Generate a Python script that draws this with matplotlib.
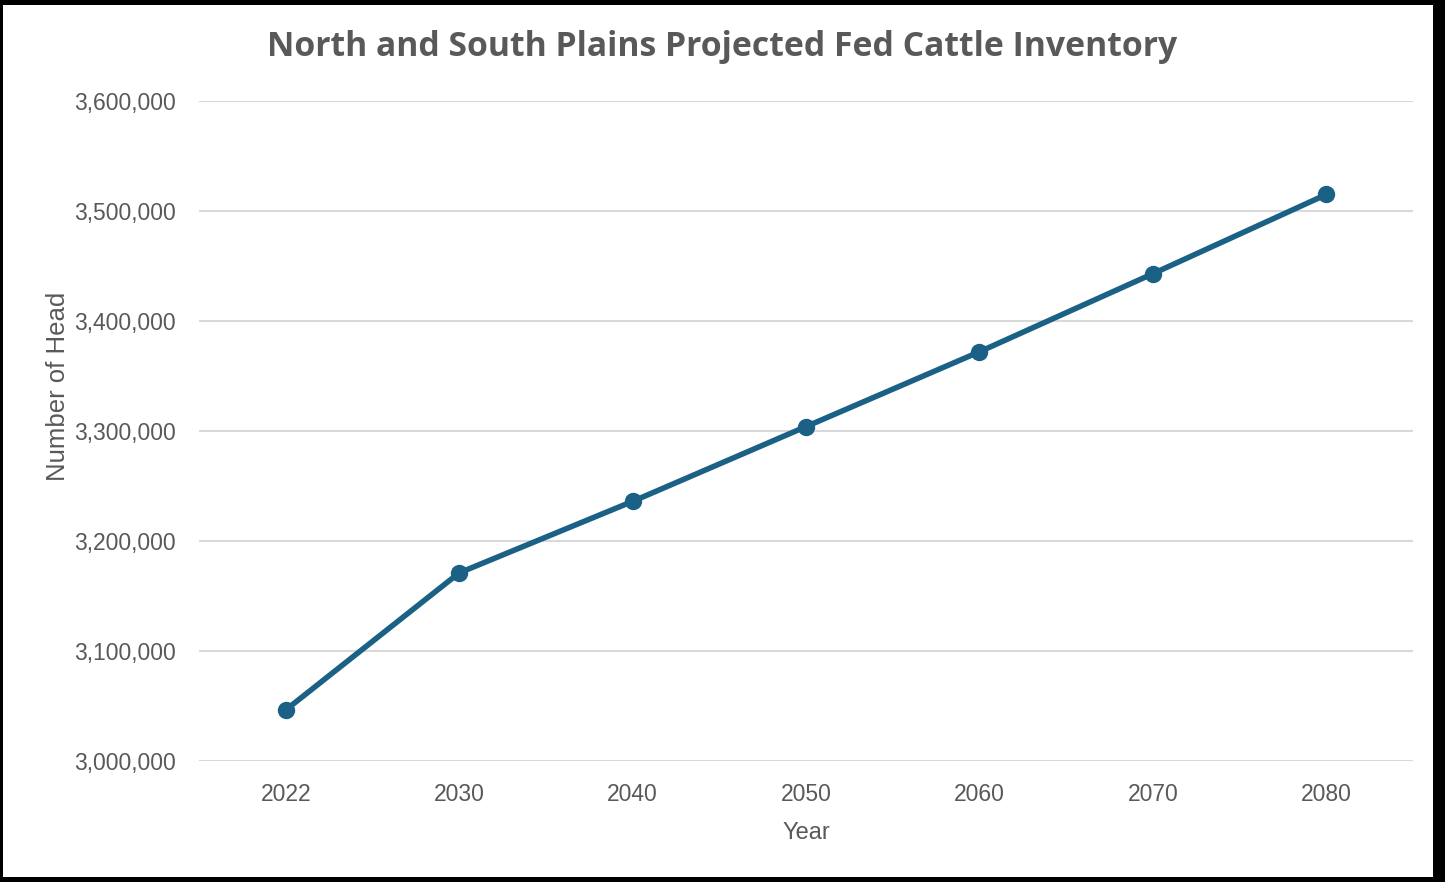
import matplotlib
matplotlib.use("Agg")
import matplotlib.pyplot as plt
import matplotlib.patches as patches
from matplotlib.ticker import FuncFormatter

years = ["2022", "2030", "2040", "2050", "2060", "2070", "2080"]
head_count = [3046400, 3171000, 3236000, 3304000, 3372000, 3443000, 3515000]

text_grey = "#595959"
line_blue = "#1b6185"

plt.rcParams["font.family"] = ["Liberation Sans", "DejaVu Sans"]

fig = plt.figure(figsize=(14.45, 8.82), dpi=100, facecolor="black")
# white card inside the black frame
card = patches.Rectangle((3 / 1445, 5 / 882), 1430 / 1445, 872 / 882,
                         transform=fig.transFigure, facecolor="white",
                         edgecolor="none", zorder=-10)
fig.patches.append(card)

ax = fig.add_axes([199 / 1445, 121 / 882, 1214 / 1445, 660 / 882])
ax.set_facecolor("none")

xs = list(range(len(years)))
ax.plot(xs, head_count, color=line_blue, lw=4, marker="o", ms=11.5,
        solid_capstyle="round", zorder=3)

ax.set_xlim(-0.5, len(years) - 0.5)
ax.set_ylim(3000000, 3600000)
ax.set_yticks(range(3000000, 3600001, 100000))
ax.yaxis.set_major_formatter(FuncFormatter(lambda v, p: f"{int(v):,}"))
ax.set_xticks(xs)
ax.set_xticklabels(years)

ax.grid(axis="y", color="#d9d9d9", lw=1.5)
ax.set_axisbelow(True)
for s in ax.spines.values():
    s.set_visible(False)
ax.tick_params(length=0, labelsize=16.5, labelcolor=text_grey)
ax.tick_params(axis="y", pad=16.5)
ax.tick_params(axis="x", pad=15.5)

ax.set_xlabel("Year", fontsize=17, color=text_grey)
ax.xaxis.set_label_coords(0.5, (761 - 822) / 660)
ax.set_ylabel("Number of Head", fontsize=18.5, color=text_grey)
ax.yaxis.set_label_coords((70 - 199) / 1214, (761 - 386) / 660)

fig.text(0.5, 1 - 47 / 882, "North and South Plains Projected Fed Cattle Inventory",
         ha="center", va="center", fontsize=24.3, fontweight="bold",
         color=text_grey, family=["Open Sans", "DejaVu Sans"])

fig.savefig("out.png", dpi=100, facecolor="black")
